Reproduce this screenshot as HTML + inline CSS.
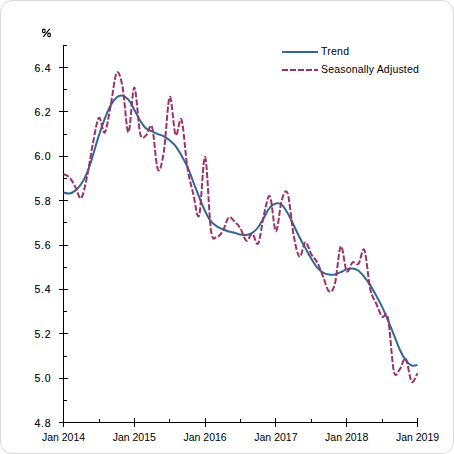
<!DOCTYPE html>
<html><head><meta charset="utf-8"><style>
html,body{margin:0;padding:0;background:#fff;}
body{width:454px;height:454px;overflow:hidden;}
svg{display:block;}
text{font-family:"Liberation Sans",sans-serif;font-size:10.5px;fill:#000;}
</style></head><body>
<svg width="454" height="454" viewBox="0 0 454 454">
<rect x="0.5" y="0.5" width="453" height="453" rx="11.5" ry="11.5" fill="#fff" stroke="#d9d9d9" stroke-width="1"/>
<g fill="#000" shape-rendering="crispEdges">
<rect x="63" y="45" width="1" height="378"/>
<rect x="63" y="422" width="355" height="1"/>
<rect x="59" y="422" width="9" height="1"/>
<rect x="59" y="378" width="9" height="1"/>
<rect x="59" y="333" width="9" height="1"/>
<rect x="59" y="289" width="9" height="1"/>
<rect x="59" y="245" width="9" height="1"/>
<rect x="59" y="200" width="9" height="1"/>
<rect x="59" y="156" width="9" height="1"/>
<rect x="59" y="111" width="9" height="1"/>
<rect x="59" y="67" width="9" height="1"/>
<rect x="64" y="400" width="3" height="1"/>
<rect x="64" y="356" width="3" height="1"/>
<rect x="64" y="311" width="3" height="1"/>
<rect x="64" y="267" width="3" height="1"/>
<rect x="64" y="222" width="3" height="1"/>
<rect x="64" y="178" width="3" height="1"/>
<rect x="64" y="134" width="3" height="1"/>
<rect x="64" y="89" width="3" height="1"/>
<rect x="64" y="45" width="3" height="1"/>
<rect x="63" y="418" width="1" height="9"/>
<rect x="134" y="418" width="1" height="9"/>
<rect x="205" y="418" width="1" height="9"/>
<rect x="275" y="418" width="1" height="9"/>
<rect x="346" y="418" width="1" height="9"/>
<rect x="417" y="418" width="1" height="9"/>
<rect x="99" y="419" width="1" height="3"/>
<rect x="169" y="419" width="1" height="3"/>
<rect x="240" y="419" width="1" height="3"/>
<rect x="311" y="419" width="1" height="3"/>
<rect x="382" y="419" width="1" height="3"/>
</g>
<g>
<text x="51.3" y="426.50" text-anchor="end" letter-spacing="0.75" stroke="#000" stroke-width="0.12">4.8</text>
<text x="51.3" y="382.12" text-anchor="end" letter-spacing="0.75" stroke="#000" stroke-width="0.12">5.0</text>
<text x="51.3" y="337.75" text-anchor="end" letter-spacing="0.75" stroke="#000" stroke-width="0.12">5.2</text>
<text x="51.3" y="293.38" text-anchor="end" letter-spacing="0.75" stroke="#000" stroke-width="0.12">5.4</text>
<text x="51.3" y="249.00" text-anchor="end" letter-spacing="0.75" stroke="#000" stroke-width="0.12">5.6</text>
<text x="51.3" y="204.62" text-anchor="end" letter-spacing="0.75" stroke="#000" stroke-width="0.12">5.8</text>
<text x="51.3" y="160.25" text-anchor="end" letter-spacing="0.75" stroke="#000" stroke-width="0.12">6.0</text>
<text x="51.3" y="115.88" text-anchor="end" letter-spacing="0.75" stroke="#000" stroke-width="0.12">6.2</text>
<text x="51.3" y="71.50" text-anchor="end" letter-spacing="0.75" stroke="#000" stroke-width="0.12">6.4</text>
<g fill="none" stroke="#000" stroke-width="1.15"><ellipse cx="43.8" cy="30.9" rx="1.35" ry="1.75"/><ellipse cx="49.1" cy="34.9" rx="1.35" ry="1.75"/><line x1="43.3" y1="36.8" x2="49.7" y2="28.9"/></g>
<text x="63.50" y="440.5" text-anchor="middle">Jan 2014</text>
<text x="134.30" y="440.5" text-anchor="middle">Jan 2015</text>
<text x="205.10" y="440.5" text-anchor="middle">Jan 2016</text>
<text x="275.90" y="440.5" text-anchor="middle">Jan 2017</text>
<text x="346.70" y="440.5" text-anchor="middle">Jan 2018</text>
<text x="417.50" y="440.5" text-anchor="middle">Jan 2019</text>
</g>
<path d="M63.50,192.42 C64.48,192.60 67.43,193.82 69.40,193.53 C71.37,193.23 73.33,192.23 75.30,190.64 C77.27,189.05 79.23,186.94 81.20,183.98 C83.17,181.03 85.13,177.70 87.10,172.89 C89.07,168.08 91.03,161.39 93.00,155.14 C94.97,148.89 96.93,141.50 98.90,135.39 C100.87,129.29 102.83,123.56 104.80,118.53 C106.77,113.50 108.73,108.73 110.70,105.22 C112.67,101.71 114.63,99.04 116.60,97.45 C118.57,95.86 120.53,95.31 122.50,95.68 C124.47,96.05 126.43,97.34 128.40,99.67 C130.37,102.00 132.33,106.14 134.30,109.66 C136.27,113.17 138.23,117.61 140.20,120.75 C142.17,123.89 144.13,126.74 146.10,128.52 C148.07,130.29 150.03,130.48 152.00,131.40 C153.97,132.32 155.93,133.25 157.90,134.06 C159.87,134.88 161.83,135.25 163.80,136.28 C165.77,137.32 167.73,138.65 169.70,140.27 C171.67,141.90 173.63,143.49 175.60,146.04 C177.57,148.60 179.53,152.15 181.50,155.58 C183.47,159.02 185.43,162.28 187.40,166.68 C189.37,171.08 191.33,176.92 193.30,181.99 C195.27,187.05 197.23,192.19 199.20,197.07 C201.17,201.96 203.13,207.21 205.10,211.28 C207.07,215.34 209.03,218.97 211.00,221.48 C212.97,224.00 214.93,225.07 216.90,226.36 C218.87,227.66 220.83,228.40 222.80,229.25 C224.77,230.10 226.73,230.87 228.70,231.47 C230.67,232.06 232.63,232.28 234.60,232.80 C236.57,233.31 238.53,234.20 240.50,234.57 C242.47,234.94 244.43,235.31 246.40,235.02 C248.37,234.72 250.33,234.09 252.30,232.80 C254.27,231.50 256.23,229.84 258.20,227.25 C260.17,224.66 262.13,220.59 264.10,217.27 C266.07,213.94 268.03,209.57 270.00,207.28 C271.97,204.99 273.93,203.92 275.90,203.51 C277.87,203.10 279.83,203.21 281.80,204.84 C283.77,206.47 285.73,209.91 287.70,213.27 C289.67,216.64 291.63,221.04 293.60,225.03 C295.57,229.02 297.53,233.39 299.50,237.23 C301.47,241.08 303.43,244.52 305.40,248.11 C307.37,251.69 309.33,255.50 311.30,258.76 C313.27,262.01 315.23,265.34 317.20,267.63 C319.17,269.92 321.13,271.37 323.10,272.51 C325.07,273.66 327.03,274.18 329.00,274.51 C330.97,274.84 332.93,274.92 334.90,274.51 C336.87,274.10 338.83,272.92 340.80,272.07 C342.77,271.22 344.73,270.00 346.70,269.41 C348.67,268.81 350.63,268.30 352.60,268.52 C354.57,268.74 356.53,269.30 358.50,270.74 C360.47,272.18 362.43,274.73 364.40,277.17 C366.37,279.61 368.33,282.31 370.30,285.38 C372.27,288.45 374.23,292.00 376.20,295.59 C378.17,299.17 380.13,302.76 382.10,306.90 C384.07,311.04 386.03,315.78 388.00,320.44 C389.97,325.10 391.93,329.98 393.90,334.86 C395.87,339.74 397.83,345.51 399.80,349.72 C401.77,353.94 403.73,357.53 405.70,360.15 C407.67,362.78 409.63,364.66 411.60,365.48 C413.57,366.29 416.52,365.11 417.50,365.03" fill="none" stroke="#336699" stroke-width="2" stroke-linejoin="round"/>
<path d="M63.50,174.00 C64.48,174.55 67.43,175.18 69.40,177.33 C71.37,179.47 73.33,183.39 75.30,186.87 C77.27,190.34 79.23,199.96 81.20,198.18 C83.17,196.41 85.13,185.43 87.10,176.22 C89.07,167.01 91.03,152.66 93.00,142.94 C94.97,133.21 96.93,119.60 98.90,117.87 C100.87,116.13 102.83,134.62 104.80,132.51 C106.77,130.40 108.73,115.13 110.70,105.22 C112.67,95.31 114.63,76.19 116.60,73.05 C118.57,69.90 120.53,76.49 122.50,86.36 C124.47,96.23 126.43,132.10 128.40,132.29 C130.37,132.47 132.33,87.25 134.30,87.47 C136.27,87.69 138.23,125.63 140.20,133.62 C142.17,141.61 144.13,136.50 146.10,135.39 C148.07,134.28 150.03,121.27 152.00,126.96 C153.97,132.66 155.93,165.42 157.90,169.56 C159.87,173.70 161.83,163.90 163.80,151.81 C165.77,139.72 167.73,99.82 169.70,97.01 C171.67,94.20 173.63,131.18 175.60,134.95 C177.57,138.72 179.53,114.24 181.50,119.64 C183.47,125.04 185.43,154.96 187.40,167.34 C189.37,179.73 191.33,185.98 193.30,193.97 C195.27,201.96 197.23,221.44 199.20,215.27 C201.17,209.09 203.13,154.36 205.10,156.92 C207.07,159.47 209.03,217.27 211.00,230.58 C212.97,243.89 214.93,236.72 216.90,236.79 C218.87,236.86 220.83,234.24 222.80,231.02 C224.77,227.80 226.73,219.08 228.70,217.49 C230.67,215.90 232.63,219.63 234.60,221.48 C236.57,223.33 238.53,225.36 240.50,228.58 C242.47,231.80 244.43,239.93 246.40,240.78 C248.37,241.63 250.33,233.24 252.30,233.68 C254.27,234.13 256.23,246.74 258.20,243.45 C260.17,240.16 262.13,221.78 264.10,213.94 C266.07,206.10 268.03,193.52 270.00,196.41 C271.97,199.29 273.93,230.65 275.90,231.24 C277.87,231.84 279.83,206.25 281.80,199.96 C283.77,193.67 285.73,187.68 287.70,193.53 C289.67,199.37 291.63,224.48 293.60,235.02 C295.57,245.55 297.53,255.58 299.50,256.76 C301.47,257.94 303.43,242.52 305.40,242.12 C307.37,241.71 309.33,250.95 311.30,254.32 C313.27,257.68 315.23,258.61 317.20,262.31 C319.17,266.00 321.13,271.66 323.10,276.51 C325.07,281.35 327.03,290.15 329.00,291.37 C330.97,292.59 332.93,291.33 334.90,283.83 C336.87,276.32 338.83,248.44 340.80,246.33 C342.77,244.22 344.73,268.52 346.70,271.18 C348.67,273.84 350.63,263.53 352.60,262.31 C354.57,261.09 356.53,265.89 358.50,263.86 C360.47,261.83 362.43,245.85 364.40,250.10 C366.37,254.36 368.33,280.46 370.30,289.37 C372.27,298.29 374.23,299.03 376.20,303.57 C378.17,308.12 380.13,314.22 382.10,316.67 C384.07,319.11 386.03,309.08 388.00,318.22 C389.97,327.35 391.93,362.96 393.90,371.47 C395.87,379.97 397.83,371.39 399.80,369.25 C401.77,367.11 403.73,356.53 405.70,358.60 C407.67,360.67 409.63,379.23 411.60,381.67 C413.57,384.12 416.52,374.65 417.50,373.24" fill="none" stroke="#993366" stroke-width="2" stroke-dasharray="6 2" stroke-linejoin="round"/>
<line x1="282" y1="52" x2="318" y2="52" stroke="#336699" stroke-width="2"/>
<line x1="282" y1="70" x2="318" y2="70" stroke="#993366" stroke-width="2" stroke-dasharray="6 2"/>
<text x="321" y="55" letter-spacing="0.25">Trend</text>
<text x="321" y="73" letter-spacing="0.18">Seasonally Adjusted</text>
</svg>
</body></html>
